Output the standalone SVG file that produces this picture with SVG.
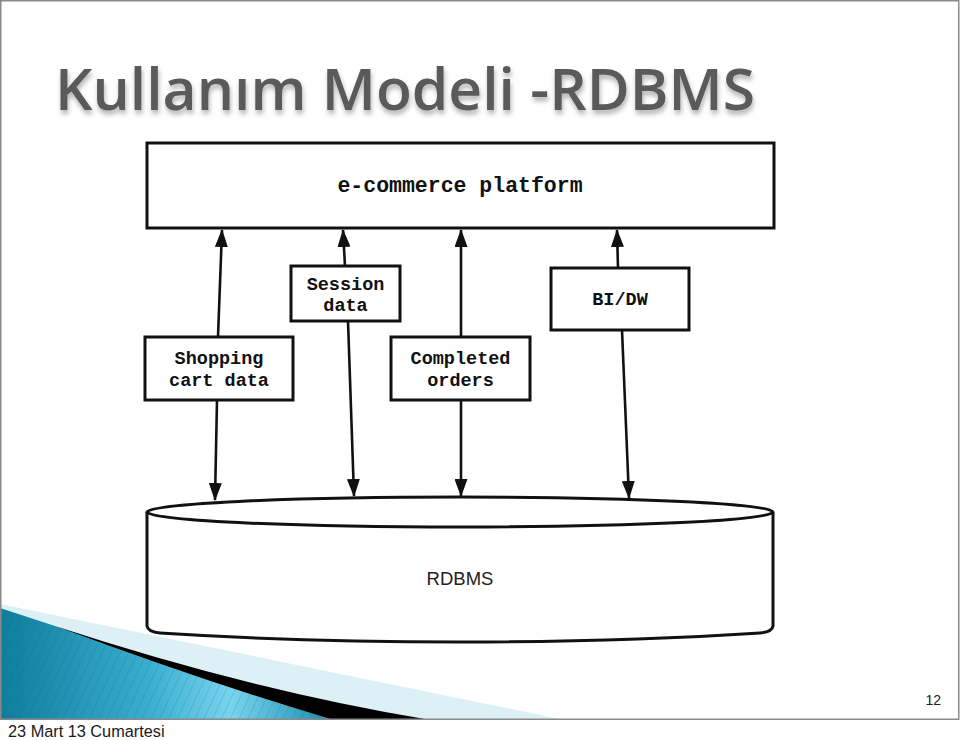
<svg xmlns="http://www.w3.org/2000/svg" width="960" height="740" viewBox="0 0 960 740">
  <style>
    .box { fill: #fff; stroke: #111; stroke-width: 3; }
    .mono { font-family: "Liberation Mono", "DejaVu Sans Mono", monospace; font-weight: bold; fill: #111; text-anchor: middle; }
    .conn { stroke: #111; stroke-width: 2.6; fill: none; }
  </style>
  <defs>
    <marker id="ah" viewBox="0 0 18 13" refX="17" refY="6.5" markerWidth="18" markerHeight="13" markerUnits="userSpaceOnUse" orient="auto">
      <path d="M0,0 L18,6.5 L0,13 Z" fill="#111"/>
    </marker>
    <linearGradient id="blue" x1="0" y1="0" x2="1" y2="0">
      <stop offset="0" stop-color="#0f7d9c"/>
      <stop offset="0.45" stop-color="#3aaed0"/>
      <stop offset="0.7" stop-color="#78d4ee"/>
      <stop offset="1" stop-color="#1c8fb0"/>
    </linearGradient>
    <pattern id="stripes" width="8" height="8" patternUnits="userSpaceOnUse" patternTransform="rotate(25)">
      <line x1="0" y1="0" x2="0" y2="8" stroke="#0a5f78" stroke-width="1" opacity="0.35"/>
    </pattern>
    <filter id="shadow" x="-5%" y="-20%" width="110%" height="150%">
      <feDropShadow dx="1" dy="4" stdDeviation="2.5" flood-color="#000" flood-opacity="0.3"/>
    </filter>
  </defs>

  <rect x="0" y="0" width="960" height="740" fill="#fff"/>

  <g id="decoration">
    <polygon points="0,604 560,719 0,719" fill="#dcf0f6"/>
    <path d="M0,608 L55,626 Q200,680 330,719 L0,719 Z" fill="url(#blue)"/>
    <path d="M0,608 L55,626 Q200,680 330,719 L0,719 Z" fill="url(#stripes)"/>
    <path d="M55,626 Q250,690 425,719 L330,719 Q200,680 55,626 Z" fill="#000"/>
  </g>

  <rect x="0.75" y="0.75" width="958" height="718.5" fill="none" stroke="#8a8a8a" stroke-width="1.5"/>

  <text x="55" y="110" font-family="'Open Sans', 'Noto Sans', sans-serif" font-weight="600" font-size="58" fill="#5a5a5a" textLength="700" lengthAdjust="spacingAndGlyphs" filter="url(#shadow)">Kullanım Modeli -RDBMS</text>

  <g id="connectors">
    <line class="conn" x1="218" y1="337" x2="222" y2="230" marker-end="url(#ah)"/>
    <line class="conn" x1="217" y1="400" x2="215" y2="500" marker-end="url(#ah)"/>
    <line class="conn" x1="345" y1="266" x2="343" y2="230" marker-end="url(#ah)"/>
    <line class="conn" x1="348" y1="321" x2="354" y2="496" marker-end="url(#ah)"/>
    <line class="conn" x1="461" y1="337" x2="461" y2="230" marker-end="url(#ah)"/>
    <line class="conn" x1="461" y1="400" x2="461" y2="496" marker-end="url(#ah)"/>
    <line class="conn" x1="618" y1="268" x2="617" y2="230" marker-end="url(#ah)"/>
    <line class="conn" x1="622" y1="330" x2="629" y2="498" marker-end="url(#ah)"/>
  </g>

  <g id="ecommerce">
    <rect class="box" x="147" y="143" width="627" height="85"/>
    <text class="mono" x="460" y="192" font-size="21.5">e-commerce platform</text>
  </g>

  <g id="session">
    <rect class="box" x="291" y="266" width="109" height="55"/>
    <text class="mono" x="345.5" y="290" font-size="18.5">Session</text>
    <text class="mono" x="345.5" y="311" font-size="18.5">data</text>
  </g>

  <g id="bidw">
    <rect class="box" x="551" y="268" width="138" height="62"/>
    <text class="mono" x="620" y="305" font-size="18.5">BI/DW</text>
  </g>

  <g id="shopping">
    <rect class="box" x="145" y="337" width="148" height="63"/>
    <text class="mono" x="219" y="364" font-size="18.5">Shopping</text>
    <text class="mono" x="219" y="386" font-size="18.5">cart data</text>
  </g>

  <g id="completed">
    <rect class="box" x="391" y="337" width="139" height="63"/>
    <text class="mono" x="460.5" y="364" font-size="18.5">Completed</text>
    <text class="mono" x="460.5" y="386" font-size="18.5">orders</text>
  </g>

  <g id="rdbms">
    <path class="box" d="M147,512 L147,626 Q148,632 160,633 Q300,642 460,642 Q620,642 760,633 Q772,632 773,626 L773,512"/>
    <ellipse class="box" cx="460" cy="512" rx="313" ry="15"/>
    <text x="460" y="585" font-family="'Liberation Sans', Arial, sans-serif" font-size="18.5" fill="#222" text-anchor="middle">RDBMS</text>
  </g>

  <text x="941" y="705" font-family="'Liberation Sans', Arial, sans-serif" font-size="14" fill="#222" text-anchor="end">12</text>
  <text x="8" y="737" font-family="'Liberation Sans', Arial, sans-serif" font-size="16.3" fill="#1a1a1a">23 Mart 13 Cumartesi</text>
</svg>
